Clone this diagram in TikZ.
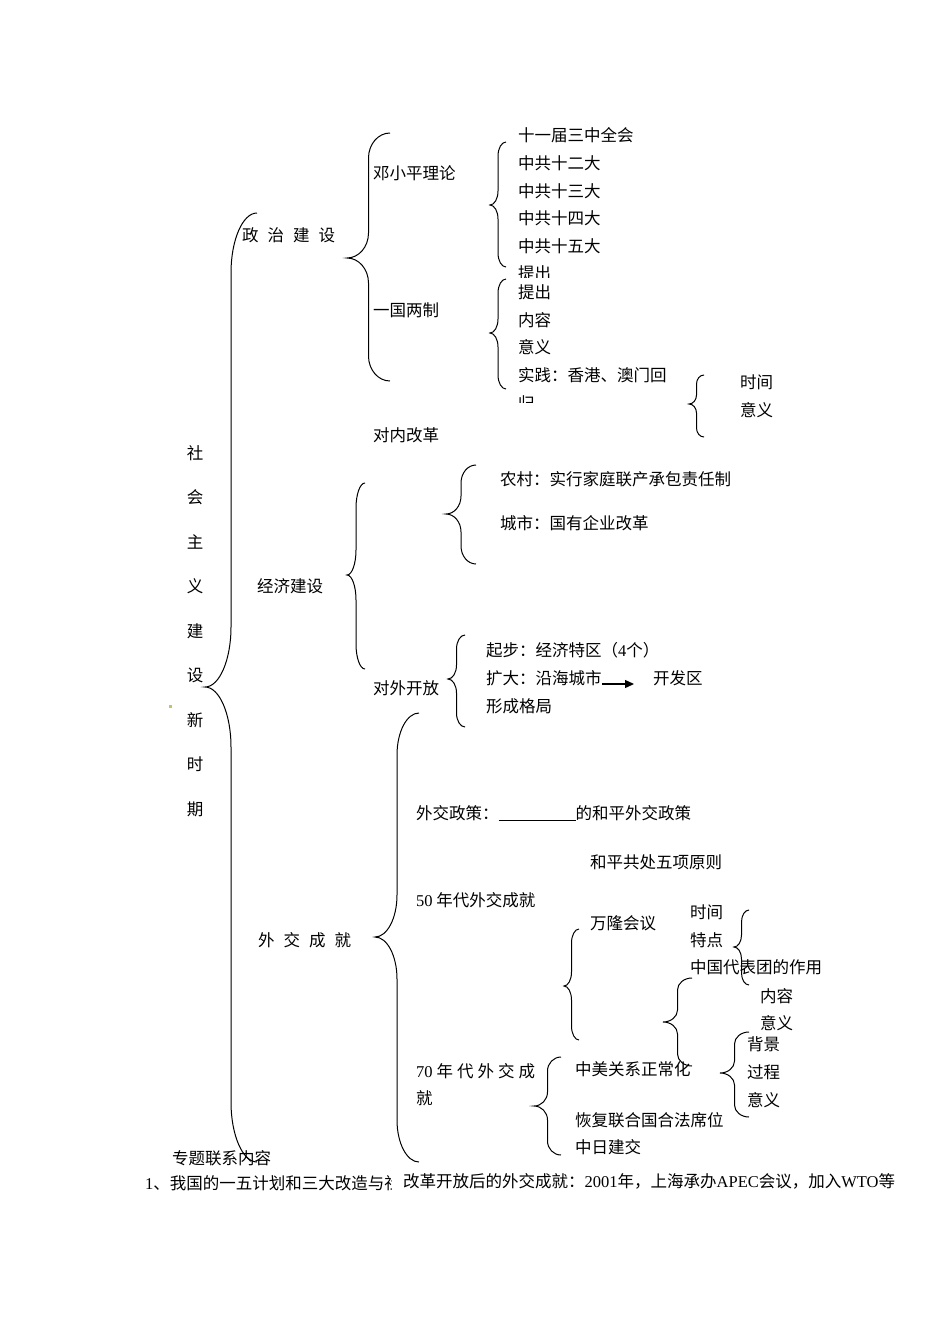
\documentclass[tikz,border=0pt]{standalone}
\usepackage{fontspec}
\setmainfont{Noto Sans CJK SC}
\newfontfamily\latf{Liberation Serif}
\usetikzlibrary{arrows.meta}
\definecolor{dotolive}{RGB}{196,196,96}
% Word-style left brace: tip x, end x, top y, tip y, bottom y, bend
\newcommand\wbrace[6]{%
  \draw[brc] (#2,#3) .. controls ({#2-0.552*(#2-#1)/2},#3) and ({(#1+#2)/2},{#3+0.448*#6}) .. ({(#1+#2)/2},{#3+#6})
    -- ({(#1+#2)/2},{#4-#6}) .. controls ({(#1+#2)/2},{#4-0.448*#6}) and ({#1+0.552*(#2-#1)/2},#4) .. (#1,#4)
    .. controls ({#1+0.552*(#2-#1)/2},#4) and ({(#1+#2)/2},{#4+0.448*#6}) .. ({(#1+#2)/2},{#4+#6})
    -- ({(#1+#2)/2},{#5-#6}) .. controls ({(#1+#2)/2},{#5-0.448*#6}) and ({#2-0.552*(#2-#1)/2},#5) .. (#2,#5);}
\newcommand\gp{\hspace{9pt}}
\tikzset{
  lbl/.style={anchor=west, inner sep=0pt, font=\fontsize{16.5}{19}\selectfont},
  brc/.style={draw=black, line width=1pt},
  arr/.style={-{Triangle[length=9pt,width=8pt]}, line width=1.3pt},
}
\begin{document}
\begin{tikzpicture}[x=1pt, y=-1pt]
  \useasboundingbox (0,0) rectangle (950,1344);

  % -- main column --
  \foreach \ch [count=\i] in {社,会,主,义,建,设,新,时,期}
    \node[lbl, anchor=center] (col\i) at (195,{453+44.5*(\i-1)}) {\ch};
  \fill[dotolive] (168.5,704.5) rectangle (171.5,707.5);
  \wbrace{205}{257}{213}{687}{1162}{60}

  % -- political construction --
  \node[lbl] (zz) at (242,235) {政\gp 治\gp 建\gp 设};
  \wbrace{347}{390}{133}{258}{381}{25}
  \node[lbl] (dxp) at (373,173) {邓小平理论};
  \node[lbl] (ygl) at (373,310) {一国两制};

  \wbrace{490}{506}{142}{205}{267}{14}
  \node[lbl] (d1) at (518,135) {十一届三中全会};
  \node[lbl] (d2) at (518,163) {中共十二大};
  \node[lbl] (d3) at (518,191) {中共十三大};
  \node[lbl] (d4) at (518,218) {中共十四大};
  \node[lbl] (d5) at (518,246) {中共十五大};
  \begin{scope}
    \clip (510,255) rectangle (620,277.5);
    \node[lbl] (d6) at (518,273) {提出};
  \end{scope}

  \wbrace{490}{506}{279}{333}{389}{14}
  \node[lbl] (y1) at (518,292) {提出};
  \node[lbl] (y2) at (518,320) {内容};
  \node[lbl] (y3) at (518,347) {意义};
  \node[lbl] (y4) at (518,375) {实践：香港、澳门回};
  \begin{scope}
    \clip (510,390) rectangle (620,402.5);
    \node[lbl] (y5) at (518,403) {归};
  \end{scope}

  \wbrace{689}{704}{375}{404}{437}{9}
  \node[lbl] (sj) at (740,382) {时间};
  \node[lbl] (yy) at (740,410) {意义};

  % -- economic construction --
  \node[lbl] (dngg) at (373,435) {对内改革};
  \wbrace{446}{476}{465}{514}{564}{18}
  \node[lbl] (nc) at (500,479) {农村：实行家庭联产承包责任制};
  \node[lbl] (cs) at (500,523) {城市：国有企业改革};

  \node[lbl] (jjjs) at (257,586) {经济建设};
  \wbrace{347}{365}{483}{575}{669}{25}
  \node[lbl] (dwkf) at (373,688) {对外开放};
  \wbrace{448}{465}{635}{679}{727}{14}
  \node[lbl] (qb) at (486,650) {起步：经济特区（{\latf 4}个）};
  \node[lbl] (kd) at (486,678) {扩大：沿海城市};
  \node[lbl] (kfq) at (653,678) {开发区};
  \node[lbl] (xc) at (486,706) {形成格局};
  \coordinate (kdEnd) at (634,684);
  \draw[arr] ([yshift=-6pt]kd.east) -- (kdEnd);

  % -- diplomacy --
  \node[lbl] (wjcj) at (258,940) {外\gp 交\gp 成\gp 就};
  \wbrace{375}{419}{713}{937}{1162}{42}
  \node[lbl] (zc) at (416,813) {外交政策：\underline{\hspace{77pt}}的和平外交政策};
  \node[lbl] (hp) at (590,862) {和平共处五项原则};
  \node[lbl] (w50) at (416,900) {{\latf 50} 年代外交成就};

  \node[lbl] (wl) at (590,923) {万隆会议};
  \wbrace{564}{579}{929}{986}{1040}{14}
  \node[lbl] (t1) at (690,912) {时间};
  \node[lbl] (t2) at (690,940) {特点};
  \node[lbl] (t3) at (690,967) {中国代表团的作用};
  \wbrace{734}{749}{910}{947}{985}{12}
  \node[lbl] (t4) at (760,996) {内容};
  \node[lbl] (t5) at (760,1023) {意义};
  \wbrace{663}{692}{978}{1022}{1066}{12}

  \node[lbl] (b1) at (747,1044) {背景};
  \node[lbl] (b2) at (747,1072) {过程};
  \node[lbl] (b3) at (747,1100) {意义};
  \wbrace{720}{749}{1032}{1073}{1117}{12}

  \node[lbl] (w70) at (416,1071) {{\latf 70}\hspace{4pt}年\hspace{4pt}代\hspace{4pt}外\hspace{4pt}交\hspace{4pt}成};
  \node[lbl] (w70b) at (416,1098) {就};
  \wbrace{534}{561}{1057}{1106}{1155}{14}
  \node[lbl] (zm) at (575,1069) {中美关系正常化};
  \node[lbl] (hf) at (575,1120) {恢复联合国合法席位};
  \node[lbl] (zr) at (575,1147) {中日建交};

  % -- bottom lines --
  \node[lbl] (ztlx) at (172,1158) {专题联系内容};
  \begin{scope}
    \clip (130,1165) rectangle (391,1200);
    \node[lbl] (yw) at (145,1183) {{\latf 1}、我国的一五计划和三大改造与社};
  \end{scope}
  \node[lbl] (ggkf) at (403,1181) {改革开放后的外交成就：{\latf 2001}年，上海承办{\latf APEC}会议，加入{\latf WTO}等};
\end{tikzpicture}
\end{document}
